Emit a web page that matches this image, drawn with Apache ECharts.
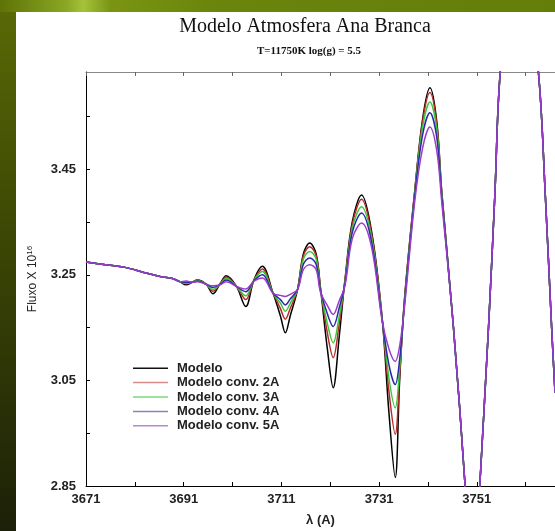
<!DOCTYPE html>
<html>
<head>
<meta charset="utf-8">
<script src="https://cdn.jsdelivr.net/npm/echarts@6/dist/echarts.min.js"></script>
<style>
  html, body { margin: 0; padding: 0; }
  body {
    width: 555px; height: 531px; position: relative; overflow: hidden;
    background: linear-gradient(to bottom, #5a6a06 0%, #3f4a04 40%, #1c2008 100%);
  }
  .top-band {
    position: absolute; left: 0; top: 0; width: 555px; height: 12px;
    background: linear-gradient(to right, #5e7206 0%, #8aa824 12%, #a4c23a 15%, #7a9412 20%, #6a840c 40%, #647e08 100%);
  }
  .panel {
    position: absolute; left: 16px; top: 12px; width: 539px; height: 519px;
    background: #ffffff;
  }
  #chart { position: absolute; left: 0; top: 0; width: 555px; height: 531px; }
</style>
</head>
<body>
<div class="top-band"></div>
<div class="panel"></div>
<div id="chart"></div>
<script>
// comprimento de onda (Angstrom)
const wavelengths = [
  3671, 3675, 3679, 3683, 3686.5, 3688.7, 3690.2, 3691.5, 3692.8, 3693.8,
  3695.6, 3697, 3698.5, 3699.7, 3701.8, 3703.7, 3705.4, 3707.1, 3709.3, 3710.8,
  3711.8, 3712.8, 3714.3, 3715.5, 3716.8, 3718.1, 3719.0, 3720.4, 3721.6, 3722.8,
  3724.0, 3725.5, 3727.4, 3729.5, 3731.6, 3733.0, 3734.3, 3735.2, 3736.2, 3738.3,
  3739.9, 3741.4, 3742.8, 3743.8, 3746.2, 3748.6, 3750.1, 3751.6, 3753.4, 3754.7,
  3755.8, 3759.6, 3763.6, 3765.0, 3766.3, 3767.0
];

const modelo = [
  3.274, 3.269, 3.264, 3.254, 3.246, 3.243, 3.237, 3.231, 3.236, 3.240,
  3.232, 3.214, 3.234, 3.248, 3.228, 3.190, 3.241, 3.266, 3.215, 3.172,
  3.140, 3.172, 3.222, 3.290, 3.310, 3.290, 3.225, 3.110, 3.036, 3.130,
  3.240, 3.350, 3.401, 3.330, 3.170, 2.990, 2.866, 3.050, 3.205, 3.410,
  3.545, 3.604, 3.540, 3.410, 3.152, 2.850, 2.600, 2.850, 3.152, 3.404,
  3.634, 3.950, 3.634, 3.404, 3.152, 3.027
];

const conv2A = [
  3.274, 3.269, 3.264, 3.254, 3.246, 3.243, 3.237, 3.233, 3.236, 3.240,
  3.232, 3.219, 3.233, 3.246, 3.228, 3.203, 3.240, 3.261, 3.215, 3.186,
  3.166, 3.186, 3.222, 3.286, 3.303, 3.286, 3.224, 3.140, 3.093, 3.155,
  3.238, 3.345, 3.393, 3.325, 3.169, 3.030, 2.948, 3.060, 3.202, 3.408,
  3.540, 3.595, 3.535, 3.408, 3.152, 2.850, 2.600, 2.850, 3.152, 3.404,
  3.634, 3.950, 3.634, 3.404, 3.152, 3.027
];

const conv3A = [
  3.274, 3.269, 3.264, 3.254, 3.246, 3.243, 3.237, 3.234, 3.236, 3.239,
  3.232, 3.222, 3.233, 3.243, 3.228, 3.210, 3.240, 3.256, 3.215, 3.196,
  3.181, 3.196, 3.222, 3.280, 3.294, 3.280, 3.222, 3.158, 3.121, 3.170,
  3.236, 3.338, 3.379, 3.318, 3.168, 3.055, 2.998, 3.075, 3.199, 3.405,
  3.530, 3.577, 3.525, 3.405, 3.152, 2.850, 2.600, 2.850, 3.152, 3.404,
  3.634, 3.950, 3.634, 3.404, 3.152, 3.027
];

const conv4A = [
  3.274, 3.269, 3.264, 3.254, 3.246, 3.243, 3.237, 3.236, 3.236, 3.238,
  3.232, 3.226, 3.232, 3.240, 3.228, 3.218, 3.239, 3.250, 3.215, 3.203,
  3.193, 3.204, 3.222, 3.270, 3.282, 3.270, 3.220, 3.176, 3.152, 3.186,
  3.233, 3.330, 3.367, 3.310, 3.166, 3.080, 3.042, 3.090, 3.195, 3.400,
  3.515, 3.557, 3.510, 3.400, 3.152, 2.850, 2.600, 2.850, 3.152, 3.404,
  3.634, 3.950, 3.634, 3.404, 3.152, 3.027
];

const conv5A = [
  3.274, 3.269, 3.264, 3.254, 3.246, 3.243, 3.237, 3.238, 3.236, 3.237,
  3.232, 3.229, 3.231, 3.237, 3.228, 3.223, 3.238, 3.244, 3.215, 3.211,
  3.209, 3.213, 3.222, 3.260, 3.269, 3.260, 3.217, 3.192, 3.175, 3.200,
  3.229, 3.318, 3.348, 3.300, 3.164, 3.110, 3.086, 3.115, 3.190, 3.390,
  3.490, 3.530, 3.485, 3.390, 3.152, 2.850, 2.600, 2.850, 3.152, 3.404,
  3.634, 3.950, 3.634, 3.404, 3.152, 3.027
];

const seriesNames = ['Modelo', 'Modelo conv. 2A', 'Modelo conv. 3A', 'Modelo conv. 4A', 'Modelo conv. 5A'];
const seriesValues = [modelo, conv2A, conv3A, conv4A, conv5A];
const lineColors = ['#000000', '#b82a2a', '#3cc83c', '#2a2aa8', '#9a3cc8'];
const legendColors = ['#111111', '#d88a8a', '#7ad87a', '#8484c4', '#b48ad4'];

const xTickLabels = ['3671', '3691', '3711', '3731', '3751'];
const yTickLabels = ['2.85', '3.05', '3.25', '3.45'];

const chart = echarts.init(document.getElementById('chart'));

const labelFont = {
  fontFamily: 'Liberation Sans',
  fontWeight: 'bold',
  fontSize: 13,
  color: '#222'
};

const option = {
  backgroundColor: 'transparent',
  animation: false,
  graphic: [
    {
      type: 'text', x: 305, y: 27,
      style: {
        text: 'Modelo Atmosfera Ana Branca',
        font: '20px "Liberation Serif"', fill: '#111',
        textAlign: 'center', textVerticalAlign: 'middle'
      }
    },
    {
      type: 'text', x: 309, y: 51,
      style: {
        text: 'T=11750K log(g) = 5.5',
        font: 'bold 11px "Liberation Serif"', fill: '#111',
        textAlign: 'center', textVerticalAlign: 'middle'
      }
    }
  ],
  legend: {
    orient: 'vertical',
    left: 128,
    top: 356,
    itemWidth: 35,
    itemHeight: 1.5,
    itemGap: 0,
    icon: 'rect',
    textStyle: Object.assign({}, labelFont, { fontSize: 13, lineHeight: 14.4, padding: [0, 0, 0, 4] }),
    data: seriesNames.map((n, i) => ({ name: n, itemStyle: { color: legendColors[i] } }))
  },
  grid: { left: 86, top: 72, right: 0, bottom: 45, outerBoundsMode: 'none', containLabel: false },
  xAxis: [
    {
      type: 'value',
      min: 3671, max: 3767, interval: 10,
      name: 'λ (A)',
      nameLocation: 'middle',
      nameGap: 28,
      nameTextStyle: Object.assign({}, labelFont, { fontSize: 13 }),
      axisLine: { lineStyle: { color: '#000', width: 1 } },
      axisTick: { inside: true, length: 4, lineStyle: { color: '#000' } },
      axisLabel: Object.assign({}, labelFont, {
        margin: 7,
        showMaxLabel: false,
        formatter: v => xTickLabels.includes(String(Math.round(v))) ? String(Math.round(v)) : ''
      }),
      splitLine: { show: false }
    },
    {
      type: 'value', position: 'top',
      min: 3671, max: 3767, interval: 10,
      axisLine: { lineStyle: { color: '#888', width: 1 } },
      axisTick: { inside: true, length: 4, lineStyle: { color: '#666' } },
      axisLabel: { show: false },
      splitLine: { show: false }
    }
  ],
  yAxis: {
    type: 'value',
    min: 2.85, max: 3.634, interval: 0.1,
    name: 'Fluxo X 10{sup|16}',
    nameLocation: 'middle',
    nameRotate: 90,
    nameGap: 46,
    nameTextStyle: {
      fontFamily: 'Liberation Sans', fontSize: 12, color: '#222',
      rich: { sup: { fontFamily: 'Liberation Sans', fontSize: 8, color: '#222', verticalAlign: 'top', padding: [0, 0, 6, 0] } }
    },
    axisLine: { show: true, lineStyle: { color: '#000', width: 1 } },
    axisTick: { inside: true, length: 4, lineStyle: { color: '#000' } },
    axisLabel: Object.assign({}, labelFont, {
      margin: 10,
      showMaxLabel: false,
      formatter: v => yTickLabels.includes(v.toFixed(2)) ? v.toFixed(2) : ''
    }),
    splitLine: { show: false }
  },
  series: seriesNames.map((name, i) => ({
    name: name,
    type: 'line',
    symbol: 'none',
    smooth: 0.35,
    clip: true,
    color: lineColors[i],
    lineStyle: { color: lineColors[i], width: 1.5 },
    data: wavelengths.map((w, k) => [w, seriesValues[i][k]])
  }))
};

chart.setOption(option);
</script>
</body>
</html>
